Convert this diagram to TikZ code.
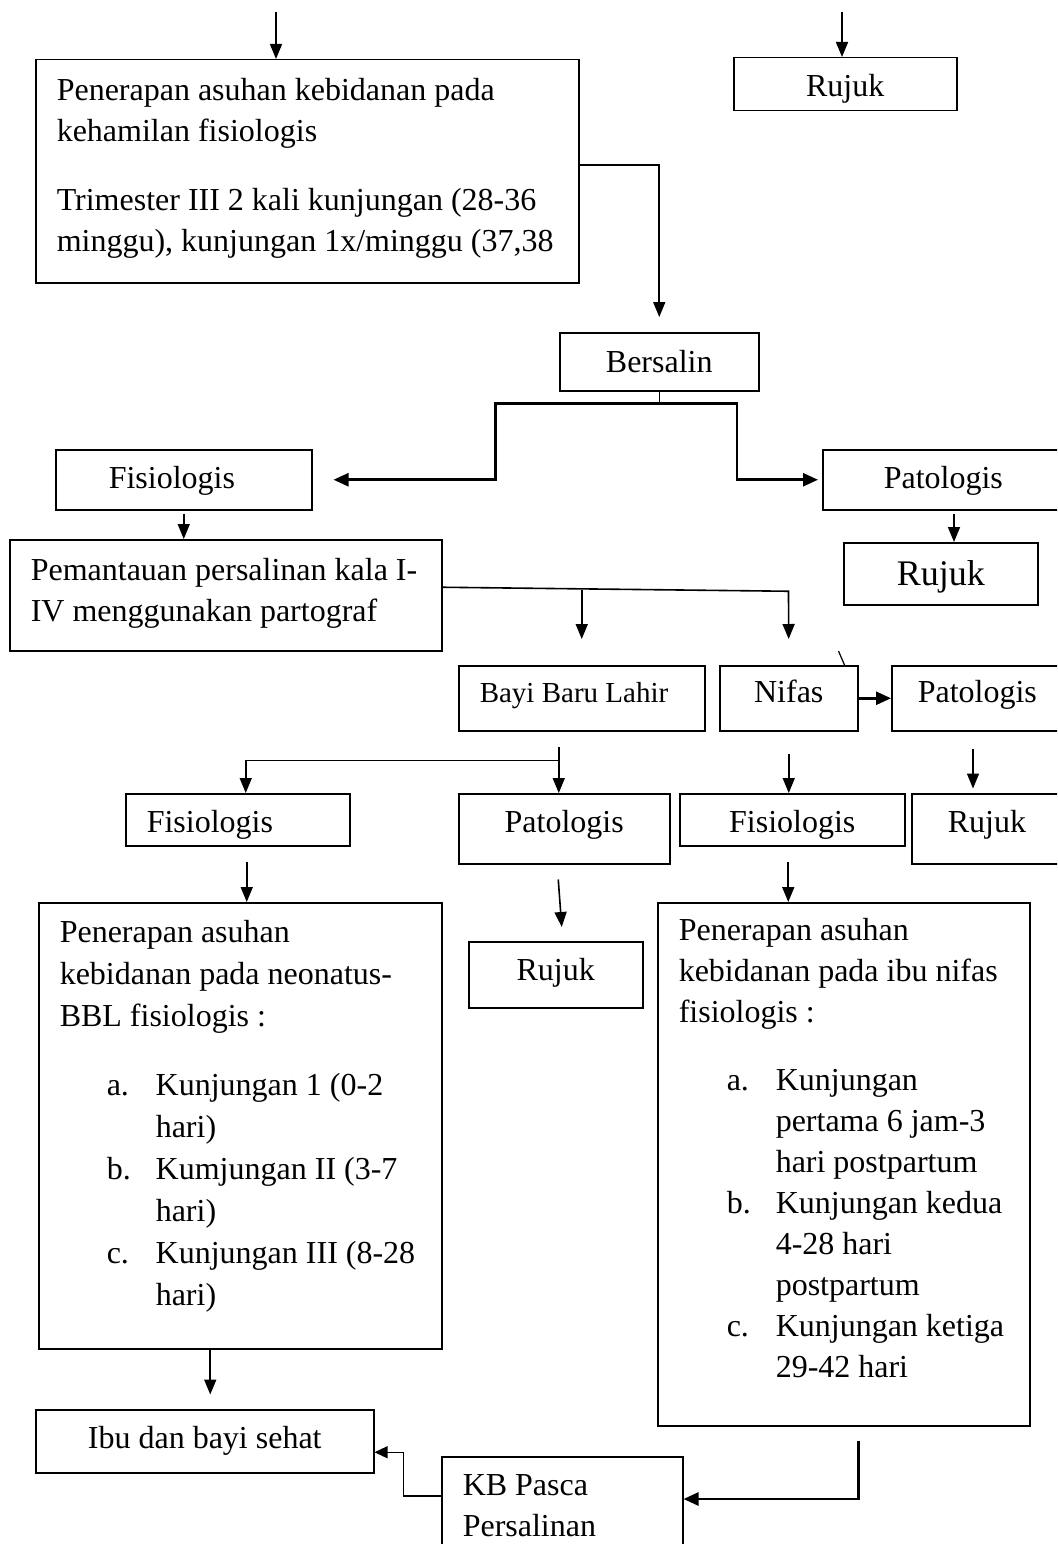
\documentclass[tikz,border=0pt]{standalone}
\usepackage{fontspec}
\setmainfont{Liberation Serif}
\usetikzlibrary{arrows.meta}

\begin{document}
\begin{tikzpicture}[x=1pt, y=-1pt,
    box/.style={draw, line width=1.5pt, anchor=north west, inner xsep=21pt, inner ysep=0pt,
      font=\fontsize{32}{41}\selectfont, text height=39pt},
    arr/.style={line width=1.6pt, -{Triangle[length=15pt,width=12pt]}},
    arrT/.style={line width=2.6pt, -{Triangle[length=15pt,width=13pt]}}]
    \useasboundingbox (0,0) rectangle (1057,1544);
    \clip (0,0) rectangle (1057,1544);

    % kehamilan
    \node[box, text width=501pt, text height=41pt, text depth=182pt, align=flush left] (hamil) at (35,59)
      {Penerapan~asuhan~kebidanan~pada\\ kehamilan fisiologis\\[28pt]
       Trimester~III~2~kali~kunjungan~(28-36\\ minggu),~kunjungan~1x/minggu~(37,38};
    \node[box, text width=181pt, text depth=14pt, align=flush center] (rujukA) at (733,57) {Rujuk};

    % persalinan
    \node[box, text width=157pt, text height=40pt, text depth=18pt, align=flush center] (bersalin) at (559,332) {Bersalin};
    \node[box, inner xsep=53pt, text width=150pt, text depth=21pt, align=flush left] (fisA) at (55,449) {Fisiologis};
    \node[box, inner xsep=61pt, text width=142pt, text depth=21pt, align=flush left] (patA) at (822,449) {Patologis};
    \node[box, text width=152pt, text height=43pt, text depth=19pt, align=flush center,
      font=\fontsize{36}{44}\selectfont] (rujukB) at (843,542) {Rujuk};
    \node[box, text width=390pt, text height=41pt, text depth=70pt, align=flush left] (pem) at (9,539)
      {Pemantauan~persalinan~kala~I-\\ IV menggunakan partograf};

    % bbl dan nifas
    \node[box, text width=204pt, text height=37pt, text depth=28pt, align=flush left,
      font=\fontsize{29}{36}\selectfont] (bbl) at (458,665) {Bayi~Baru~Lahir};
    \node[box, text width=96pt, text height=37pt, text depth=28pt, align=flush center] (nifas) at (719,665) {Nifas};
    \node[box, inner xsep=26pt, text width=148pt, text height=37pt, text depth=28pt, align=flush left] (patB) at (891,665) {Patologis};

    \node[box, text width=182pt, text depth=13pt, align=flush left] (fisB) at (125,793) {Fisiologis};
    \node[box, text width=169pt, text depth=31pt, align=flush center] (patC) at (458,793) {Patologis};
    \node[box, text width=183pt, text depth=13pt, align=flush center] (fisC) at (679,793) {Fisiologis};
    \node[box, inner xsep=36pt, text width=88pt, text depth=31pt, align=flush left] (rujukC) at (911,793) {Rujuk};
    \node[box, text width=132pt, text depth=27pt, align=flush center] (rujukD) at (468,941) {Rujuk};

    \node[box, text width=361pt, text height=40pt, text depth=406pt, align=flush left,
      font=\fontsize{32}{42}\selectfont] (neo) at (38,902)
      {Penerapan asuhan\\ kebidanan~pada~neonatus-\\ BBL fisiologis :\\[27pt]
       \hspace*{47pt}\makebox[49pt][l]{a.}Kunjungan~1~(0-2\\ \hspace*{96pt}hari)\\
       \hspace*{47pt}\makebox[49pt][l]{b.}Kumjungan~II~(3-7\\ \hspace*{96pt}hari)\\
       \hspace*{47pt}\makebox[49pt][l]{c.}Kunjungan~III~(8-28\\ \hspace*{96pt}hari)};
    \node[box, text width=330pt, text height=38pt, text depth=485pt, align=flush left] (nifbox) at (657,902)
      {Penerapan asuhan\\ kebidanan~pada~ibu~nifas\\ fisiologis :\\[27pt]
       \hspace*{48pt}\makebox[49pt][l]{a.}Kunjungan\\ \hspace*{97pt}pertama~6~jam-3\\ \hspace*{97pt}hari~postpartum\\
       \hspace*{48pt}\makebox[49pt][l]{b.}Kunjungan~kedua\\ \hspace*{97pt}4-28~hari\\ \hspace*{97pt}postpartum\\
       \hspace*{48pt}\makebox[49pt][l]{c.}Kunjungan~ketiga\\ \hspace*{97pt}29-42~hari};

    \node[box, text width=296pt, text depth=24pt, align=flush center] (ibu) at (35,1409) {Ibu~dan~bayi~sehat};
    \node[box, text width=199pt, text depth=81pt, align=flush left] (kb) at (441,1456) {KB Pasca\\ Persalinan};

    % panah
    \coordinate (inA) at (276,12);
    \coordinate (inB) at (842,12);
    \draw[arr] (inA) -- (inA |- hamil.north);
    \draw[arr] (inB) -- (inB |- rujukA.north);
    \draw[arr, shorten >=15pt] ([yshift=6pt]hamil.east) -| (bersalin.north);

    \draw[line width=1pt] (bersalin.south) -- ++(0,12) coordinate (split);
    \draw[arrT, shorten >=21pt] (split) -| ([xshift=183pt]fisA.east) -- (fisA.east);
    \draw[arrT, shorten >=4pt] (split) -| ([xshift=-85pt]patA.west) -- (patA.west);
    \draw[arr] ([yshift=-3pt]fisA.south) -- (fisA.south |- pem.north);
    \draw[arr] ([shift={(132,3)}]patA.south west) -- ([xshift=132pt]patA.south west |- rujukB.north);

    \draw[arr, shorten >=26pt] ([yshift=8pt]pem.east) -- ++(346,4) -- (nifas.north);
    \draw[arr] ([yshift=75pt]bbl.north) -- ([yshift=26pt]bbl.north);
    \draw[line width=1.2pt] ([xshift=-14pt]nifas.north east) -- ++(-6,-14);
    \draw[arrT] (nifas.east) -- (patB.west);

    \coordinate (bj) at ([shift={(-23,15)}]bbl.south);
    \draw[arr] (bj) -- (bj |- patC.north);
    \draw[arr] (bj) ++(0,14) -| ([xshift=8pt]fisB.north);
    \draw[arr] ([yshift=-22pt]nifas.south) -- (nifas.south |- fisC.north);
    \draw[arr] ([shift={(82,17)}]patB.south west) -- ++(0,40);

    \draw[arr] ([shift={(9,15)}]fisB.south) -- ([xshift=9pt]fisB.south |- neo.north);
    \draw[arr] ([shift={(-6,15)}]patC.south) -- ([shift={(6,-14)}]rujukD.north);
    \draw[arr] ([shift={(-4,15)}]fisC.south) -- ([xshift=-4pt]fisC.south |- nifbox.north);

    \draw[arr] ([xshift=-30pt]neo.south) -- ++(0,45);
    \draw[arrT] ([shift={(15,14)}]nifbox.south) |- ([yshift=-43pt]kb.north east);
    \draw[line width=1.2pt, -{Triangle[length=13pt,width=12pt]}] ([yshift=-40pt]kb.north west)
      -| ([shift={(29,11)}]ibu.east) -- ([yshift=-11pt]ibu.east);
\end{tikzpicture}
\end{document}
